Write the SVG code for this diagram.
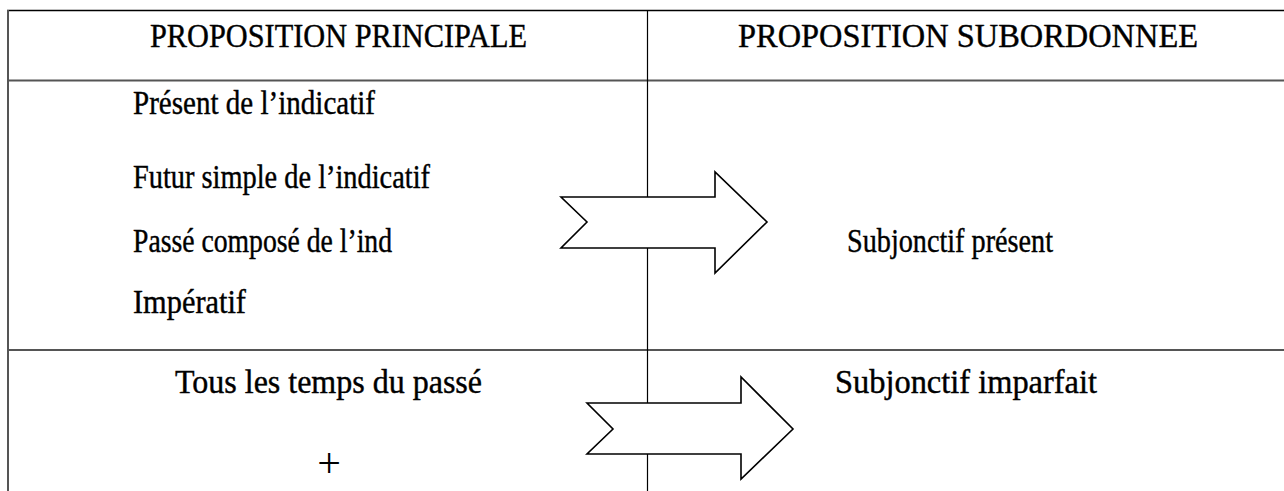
<svg xmlns="http://www.w3.org/2000/svg" width="1284" height="491" viewBox="0 0 1284 491">
<style>
.t{font-family:"Liberation Serif","Times New Roman",serif;font-size:33px;fill:#000;stroke:#000;stroke-width:0.4}
.g{stroke:#555;stroke-width:2;fill:none}
.k{stroke:#000;stroke-width:1.2;fill:none}
.arrow{fill:#fff;stroke:#000;stroke-width:1.6;stroke-linejoin:miter}
</style>
<rect width="1284" height="491" fill="#fff"/>
<g id="table">
<line class="k" x1="7" y1="10.5" x2="1284" y2="10.5" style="stroke-width:1.6"/>
<line class="g" x1="8" y1="10" x2="8" y2="491"/>
<line class="g" x1="7" y1="80.5" x2="1284" y2="80.5"/>
<line class="g" x1="7" y1="350" x2="1284" y2="350"/>
<line class="k" x1="647.5" y1="10" x2="647.5" y2="491"/>
</g>
<g id="header-principale"><text class="t" x="150" y="47" textLength="377" lengthAdjust="spacingAndGlyphs">PROPOSITION PRINCIPALE</text></g>
<g id="header-subordonnee"><text class="t" x="738" y="47" textLength="460" lengthAdjust="spacingAndGlyphs">PROPOSITION SUBORDONNEE</text></g>
<g id="row1-principale">
<text class="t" x="133" y="114" textLength="242" lengthAdjust="spacingAndGlyphs">Présent de l’indicatif</text>
<text class="t" x="133" y="188" textLength="297" lengthAdjust="spacingAndGlyphs">Futur simple de l’indicatif</text>
<text class="t" x="133" y="252" textLength="259" lengthAdjust="spacingAndGlyphs">Passé composé de l’ind</text>
<text class="t" x="133" y="313" textLength="113" lengthAdjust="spacingAndGlyphs">Impératif</text>
</g>
<g id="row1-subordonnee"><text class="t" x="847" y="252" textLength="206" lengthAdjust="spacingAndGlyphs">Subjonctif présent</text></g>
<g id="row2-principale">
<text class="t" x="175" y="393" textLength="307" lengthAdjust="spacingAndGlyphs">Tous les temps du passé</text>
<text class="t" x="329" y="477" text-anchor="middle" style="font-size:42px;stroke-width:0">+</text>
</g>
<g id="row2-subordonnee"><text class="t" x="835" y="393" textLength="262" lengthAdjust="spacingAndGlyphs">Subjonctif imparfait</text></g>
<g id="connectors">
<polygon class="arrow" points="561,197 715,197 715,172 767,222 715,273 715,248 561,248 587,222"/>
<polygon class="arrow" points="587,403 741,403 741,377 793,429 741,479 741,454 587,454 613,429"/>
</g>
</svg>
